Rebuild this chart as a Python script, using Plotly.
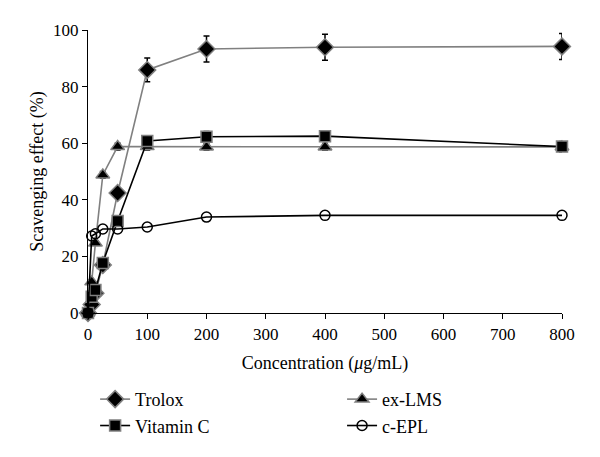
import plotly.graph_objects as go

conc = [0, 6.25, 12.5, 25, 50, 100, 200, 400, 800]
trolox = [0, 3, 7, 17, 42.4, 85.9, 93.3, 93.9, 94.2]
trolox_err = [0, 0.5, 0.8, 1.2, 1.5, 4.2, 4.6, 4.6, 4.6]
vitc = [0, 5.7, 8.1, 17.7, 32.5, 60.8, 62.3, 62.5, 58.8]
vitc_err = [0, 0.5, 0.5, 0.8, 1.0, 1.5, 1.8, 1.8, 1.8]
exlms = [0, 11, 24.7, 48.8, 58.8, 58.8, 58.7, 58.7, 58.7]
exlms_err = [0, 0.5, 0.8, 1.2, 1.2, 1.2, 1.2, 1.2, 1.2]
cepl = [0, 27.2, 28.0, 29.7, 29.7, 30.4, 33.9, 34.5, 34.5]

FONT = "Liberation Serif"
GRAY = "#808080"

fig = go.Figure()

def add(name, y, err, line_color, symbol, mcolor, mline, size, legend):
    fig.add_trace(go.Scatter(
        x=conc, y=y, name=name, mode="lines+markers",
        line=dict(color=line_color, width=1.6),
        marker=dict(symbol=symbol, size=size, color=mcolor,
                    line=dict(color=mline, width=1.5)),
        error_y=(dict(type="data", array=err, color="black", thickness=1.5, width=3)
                 if err is not None else None),
        cliponaxis=False,
        legend=legend,
    ))

add("Trolox", trolox, trolox_err, GRAY, "diamond", "black", GRAY, 13, "legend")
add("ex-LMS", exlms, exlms_err, GRAY, "triangle-up", "black", GRAY, 12, "legend2")
add("Vitamin C", vitc, vitc_err, "black", "square", "black", GRAY, 11, "legend")
add("c-EPL", cepl, None, "black", "circle-open", "black", "black", 10, "legend2")

axis_common = dict(showline=True, linecolor="black", linewidth=1.3, ticks="outside",
                   ticklen=5, tickcolor="black", showgrid=False, zeroline=False,
                   automargin=False,
                   tickfont=dict(family=FONT, size=17, color="black"))

leg_common = dict(orientation="v", yanchor="top", y=-0.24, xanchor="left",
                  font=dict(family=FONT, size=18, color="black"),
                  bgcolor="rgba(0,0,0,0)", tracegroupgap=0, itemwidth=30)

fig.update_layout(
    width=592, height=449,
    margin=dict(l=80, r=38, t=22, b=144, autoexpand=False),
    plot_bgcolor="white", paper_bgcolor="white",
    font=dict(family=FONT, size=17, color="black"),
    xaxis=dict(range=[0, 800], tickvals=[0, 100, 200, 300, 400, 500, 600, 700, 800],
               title=dict(text="Concentration (<i>μ</i>g/mL)", font=dict(family=FONT, size=18),
                          standoff=13),
               **axis_common),
    yaxis=dict(range=[0, 100], tickvals=[0, 20, 40, 60, 80, 100],
               title=dict(text="Scavenging effect (%)", font=dict(family=FONT, size=18),
                          standoff=4),
               **axis_common),
    legend=dict(x=0.015, **leg_common),
    legend2=dict(x=0.536, **leg_common),
    showlegend=True,
)

fig.write_html("out.html")
